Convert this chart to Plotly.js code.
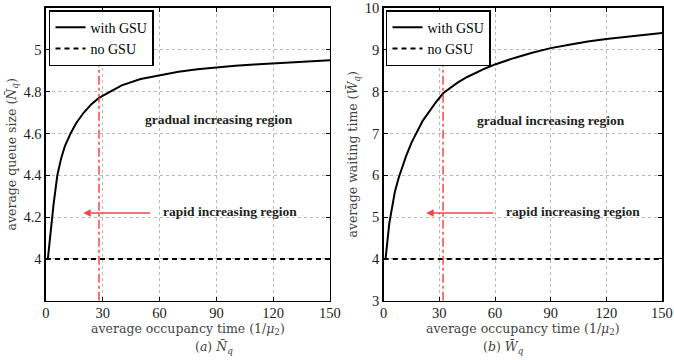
<!DOCTYPE html>
<html>
<head>
<meta charset="utf-8">
<script src="https://cdn.plot.ly/plotly-3.0.1.min.js"></script>
<style>html,body{margin:0;padding:0;background:#fff;}#chart{width:674px;height:360px;}</style>
</head>
<body>
<div id="chart"></div>
<script>
// ---- data ----
const xNq = [1, 2, 3, 4, 5, 6, 8, 10, 13, 16, 20, 24, 28, 32, 36, 40, 50, 60, 70, 80, 90, 100, 110, 120, 130, 140, 150];
const nqWithGSU = [4.0, 4.10, 4.18, 4.26, 4.33, 4.40, 4.48, 4.54, 4.60, 4.65, 4.70, 4.74, 4.77, 4.79, 4.81, 4.83, 4.86, 4.878, 4.895, 4.907, 4.916, 4.924, 4.93, 4.935, 4.94, 4.945, 4.95];
const xNoGSU = [0, 150];
const nqNoGSU = [4.0, 4.0];

const xWq = [1, 2, 3, 4, 5, 6, 8, 10, 12, 15, 18, 21, 25, 28, 32, 36, 40, 45, 50, 55, 60, 70, 80, 90, 100, 110, 120, 130, 140, 150];
const wqWithGSU = [4.0, 4.45, 4.85, 5.1, 5.35, 5.6, 5.93, 6.2, 6.45, 6.78, 7.05, 7.3, 7.55, 7.74, 7.96, 8.1, 8.22, 8.35, 8.46, 8.56, 8.65, 8.8, 8.93, 9.04, 9.12, 9.2, 9.26, 9.31, 9.36, 9.40];
const wqNoGSU = [4.0, 4.0];

const markerLeftX = [28, 28];
const markerLeftY = [3.8, 5.0];
const markerRightX = [32, 32];
const markerRightY = [3, 8.87];

const xTicks = [0, 30, 60, 90, 120, 150];
const nqTicks = [4, 4.2, 4.4, 4.6, 4.8, 5];
const nqTickText = ['4', '4.2', '4.4', '4.6', '4.8', '5'];
const wqTicks = [3, 4, 5, 6, 7, 8, 9, 10];

const serif = 'Liberation Serif, Times New Roman, serif';
const cm = 'DejaVu Serif, serif';
const red = 'rgba(240,40,40,0.85)';

const traces = [
  {x: xNq, y: nqWithGSU, mode: 'lines', name: 'with GSU', line: {color: '#000', width: 2}, xaxis: 'x', yaxis: 'y', legend: 'legend'},
  {x: xNoGSU, y: nqNoGSU, mode: 'lines', name: 'no GSU', line: {color: '#000', width: 2, dash: '5px,4px'}, xaxis: 'x', yaxis: 'y', legend: 'legend'},
  {x: markerLeftX, y: markerLeftY, mode: 'lines', showlegend: false, line: {color: red, width: 1.5, dash: 'dashdot'}, xaxis: 'x', yaxis: 'y'},
  {x: xWq, y: wqWithGSU, mode: 'lines', name: 'with GSU', line: {color: '#000', width: 2}, xaxis: 'x2', yaxis: 'y2', legend: 'legend2'},
  {x: xNoGSU, y: wqNoGSU, mode: 'lines', name: 'no GSU', line: {color: '#000', width: 2, dash: '5px,4px'}, xaxis: 'x2', yaxis: 'y2', legend: 'legend2'},
  {x: markerRightX, y: markerRightY, mode: 'lines', showlegend: false, line: {color: red, width: 1.5, dash: 'dashdot'}, xaxis: 'x2', yaxis: 'y2'}
];

const axisCommon = {
  showline: true, linecolor: '#000', linewidth: 1.5, mirror: 'ticks',
  ticks: 'inside', ticklen: 4, tickcolor: '#000', tickwidth: 1,
  showgrid: true, gridcolor: '#b8b8b8', griddash: 'dot', gridwidth: 1,
  zeroline: false, tickfont: {family: serif, size: 14.5, color: '#222'},
  ticklabeloverflow: 'allow'
};
const titleFont = {family: cm, size: 12.5, color: '#444'};

const layout = {
  width: 674, height: 360,
  margin: {l: 0, r: 0, t: 0, b: 0},
  paper_bgcolor: '#fff', plot_bgcolor: '#fff',
  showlegend: true,
  xaxis: Object.assign({}, axisCommon, {domain: [0.0682, 0.4896], range: [0, 150], tickvals: xTicks, anchor: 'y', ticklabelstandoff: -2,
    title: {text: 'average occupancy time (1/<i>μ</i><sub>2</sub>)', font: titleFont, standoff: 0}}),
  yaxis: Object.assign({}, axisCommon, {domain: [0.1647, 0.9778], range: [3.8, 5.2], tickvals: nqTicks, ticktext: nqTickText, anchor: 'x',
    title: {text: 'average queue size (<i>N̄</i><sub><i>q</i></sub>)', font: titleFont, standoff: 4}}),
  xaxis2: Object.assign({}, axisCommon, {domain: [0.5693, 0.9822], range: [0, 150], tickvals: xTicks, anchor: 'y2', ticklabelstandoff: -2,
    title: {text: 'average occupancy time (1/<i>μ</i><sub>2</sub>)', font: titleFont, standoff: 0}}),
  yaxis2: Object.assign({}, axisCommon, {domain: [0.1647, 0.9778], range: [3, 10], tickvals: wqTicks, anchor: 'x2',
    title: {text: 'average waiting time (<i>W̄</i><sub><i>q</i></sub>)', font: titleFont, standoff: 4}}),
  legend: {x: 0.0727, y: 0.972, xanchor: 'left', yanchor: 'top', bgcolor: '#fff', bordercolor: '#000', borderwidth: 1.5,
    font: {family: serif, size: 14, color: '#000'}, tracegroupgap: 0, itemwidth: 30},
  legend2: {x: 0.5727, y: 0.972, xanchor: 'left', yanchor: 'top', bgcolor: '#fff', bordercolor: '#000', borderwidth: 1.5,
    font: {family: serif, size: 14, color: '#000'}, tracegroupgap: 0, itemwidth: 30},
  annotations: [
    {xref: 'x', yref: 'y', x: 19.7, y: 4.219, ax: 55.8, ay: 4.219, axref: 'x', ayref: 'y', showarrow: true, arrowhead: 2, arrowsize: 1, arrowwidth: 1.5, arrowcolor: red, text: ''},
    {xref: 'x', yref: 'y', x: 61, y: 4.225, xanchor: 'left', text: '<b>rapid increasing region</b>', showarrow: false, font: {family: serif, size: 13.5, color: '#222'}},
    {xref: 'x', yref: 'y', x: 91.4, y: 4.669, text: '<b>gradual increasing region</b>', showarrow: false, font: {family: serif, size: 13.5, color: '#222'}},
    {xref: 'x2', yref: 'y2', x: 22.9, y: 5.10, ax: 60, ay: 5.10, axref: 'x2', ayref: 'y2', showarrow: true, arrowhead: 2, arrowsize: 1, arrowwidth: 1.5, arrowcolor: red, text: ''},
    {xref: 'x2', yref: 'y2', x: 65, y: 5.14, xanchor: 'left', text: '<b>rapid increasing region</b>', showarrow: false, font: {family: serif, size: 13.5, color: '#222'}},
    {xref: 'x2', yref: 'y2', x: 90.1, y: 7.32, text: '<b>gradual increasing region</b>', showarrow: false, font: {family: serif, size: 13.5, color: '#222'}},
    {xref: 'paper', yref: 'paper', x: 193/674, y: 1 - 347/360, yanchor: 'middle', text: '(<i>a</i>) <i>N̄</i><sub><i>q</i></sub>', showarrow: false, font: titleFont},
    {xref: 'paper', yref: 'paper', x: 526/674, y: 1 - 347/360, yanchor: 'middle', text: '(<i>b</i>) <i>W̄</i><sub><i>q</i></sub>', showarrow: false, font: titleFont}
  ]
};

Plotly.newPlot('chart', traces, layout, {staticPlot: true, displayModeBar: false});
</script>
</body>
</html>
